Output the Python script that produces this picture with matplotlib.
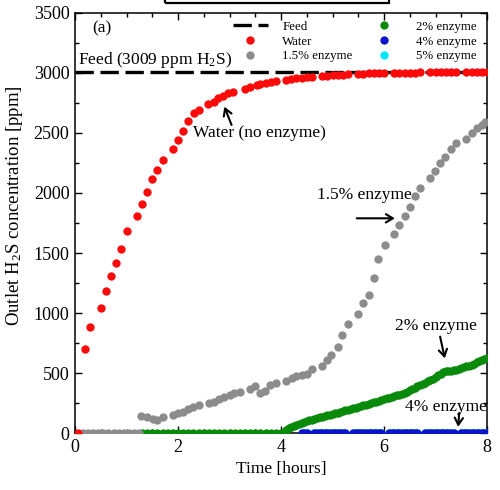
import matplotlib
matplotlib.use("Agg")
import matplotlib.pyplot as plt
from matplotlib.patches import Rectangle
from matplotlib.ticker import MultipleLocator

plt.rcParams["font.family"] = ["Liberation Serif", "DejaVu Serif"]
plt.rcParams["mathtext.fontset"] = "custom"
plt.rcParams["mathtext.rm"] = "Liberation Serif"
plt.rcParams["mathtext.it"] = "Liberation Serif:italic"

FEED_PPM = 3009

# Water (no enzyme)
t_water = [0.05, 0.19, 0.30, 0.50, 0.60, 0.70, 0.80, 0.90, 1.00, 1.20, 1.30, 1.40,
           1.50, 1.60, 1.70, 1.90, 2.00, 2.10, 2.20, 2.31, 2.40, 2.59, 2.69, 2.78,
           2.88, 2.98, 3.07, 3.30, 3.40, 3.53, 3.60, 3.70, 3.80, 3.90, 4.10, 4.20,
           4.30, 4.40, 4.50, 4.60, 4.80, 4.90, 5.00, 5.10, 5.20, 5.30, 5.50, 5.60,
           5.70, 5.80, 5.90, 6.00, 6.20, 6.30, 6.40, 6.50, 6.60, 6.70, 6.90, 7.00,
           7.10, 7.20, 7.30, 7.40, 7.60, 7.70, 7.80, 7.90, 8.00]
c_water = [0, 697, 886, 1044, 1180, 1306, 1419, 1530, 1683, 1811, 1911, 2011,
           2114, 2192, 2275, 2364, 2442, 2517, 2600, 2664, 2692, 2742, 2761, 2789,
           2808, 2831, 2844, 2864, 2883, 2900, 2905, 2913, 2922, 2930, 2945, 2950,
           2956, 2960, 2965, 2968, 2975, 2978, 2981, 2984, 2986, 2989, 2993, 2994,
           2996, 2997, 2999, 3000, 3001, 3002, 3003, 3003, 3004, 3005, 3005, 3006,
           3006, 3007, 3007, 3008, 3008, 3009, 3009, 3010, 3010]

# 1.5 % enzyme
t_e15 = [0.15, 0.25, 0.35, 0.45, 0.55, 0.65, 0.75, 0.85, 0.95, 1.05, 1.15, 1.25,
         1.29, 1.40, 1.51, 1.60, 1.70, 1.90, 2.00, 2.10, 2.20, 2.30, 2.40, 2.60,
         2.70, 2.80, 2.89, 3.00, 3.09, 3.20, 3.40, 3.50, 3.59, 3.69, 3.79, 3.90,
         4.10, 4.21, 4.30, 4.40, 4.50, 4.60, 4.79, 4.90, 4.98, 5.10, 5.18, 5.31,
         5.50, 5.60, 5.70, 5.81, 5.89, 6.01, 6.19, 6.30, 6.41, 6.50, 6.60, 6.70,
         6.89, 6.99, 7.09, 7.18, 7.30, 7.40, 7.59, 7.70, 7.80, 7.90, 7.96]
c_e15 = [0, 0, 0, 0, 0, 0, 0, 0, 0, 0, 0, 0,
         145, 131, 117, 108, 131, 150, 164, 178, 197, 219, 233, 247,
         261, 281, 297, 314, 331, 344, 364, 392, 336, 353, 400, 414,
         436, 461, 475, 483, 492, 531, 558, 608, 650, 719, 817, 908,
         992, 1081, 1150, 1289, 1447, 1567, 1658, 1733, 1811, 1886, 1975, 2044,
         2122, 2183, 2247, 2303, 2364, 2419, 2447, 2503, 2539, 2567, 2594]

# 2 % enzyme
t_e2 = [1.30, 1.40, 1.50, 1.60, 1.70, 1.80, 1.90, 2.00, 2.10, 2.20, 2.30, 2.40,
        2.50, 2.60, 2.70, 2.80, 2.90, 3.00, 3.10, 3.20, 3.30, 3.40, 3.50, 3.60,
        3.70, 3.80, 3.90, 4.00, 4.05, 4.10, 4.15, 4.20, 4.25, 4.30, 4.35, 4.40,
        4.45, 4.50, 4.55, 4.60, 4.65, 4.70, 4.75, 4.80, 4.85, 4.90, 4.95, 5.00,
        5.05, 5.10, 5.15, 5.20, 5.25, 5.30, 5.35, 5.40, 5.45, 5.50, 5.55, 5.60,
        5.65, 5.70, 5.75, 5.80, 5.85, 5.90, 5.95, 6.00, 6.05, 6.10, 6.15, 6.20,
        6.25, 6.30, 6.35, 6.40, 6.45, 6.50, 6.55, 6.60, 6.65, 6.70, 6.75, 6.80,
        6.85, 6.90, 6.95, 7.00, 7.05, 7.10, 7.15, 7.20, 7.25, 7.30, 7.35, 7.40,
        7.45, 7.50, 7.55, 7.60, 7.65, 7.70, 7.75, 7.80, 7.85, 7.90, 7.95, 8.00]
c_e2 = [0, 0, 0, 0, 0, 0, 0, 0, 0, 0, 0, 0,
        0, 0, 0, 0, 0, 0, 0, 0, 0, 0, 0, 0,
        0, 0, 0, 0, 12, 25, 38, 50, 58, 66, 75, 85,
        93, 100, 106, 112, 118, 124, 130, 135, 141, 147, 152, 158,
        164, 170, 176, 182, 188, 194, 200, 206, 212, 218, 224, 230,
        237, 243, 250, 256, 262, 269, 276, 282, 289, 295, 301, 308,
        314, 320, 327, 335, 345, 355, 366, 377, 389, 400, 410, 420,
        431, 442, 453, 465, 480, 495, 507, 515, 518, 520, 522, 525,
        532, 540, 548, 555, 562, 570, 579, 588, 596, 605, 615, 625]

# 4 % enzyme (no breakthrough)
t_e4 = [4.40, 4.45, 4.50,
        4.65, 4.70, 4.75, 4.80, 4.85, 4.90, 4.95, 5.00, 5.05, 5.10, 5.15, 5.20, 5.25,
        5.40, 5.45, 5.50, 5.55, 5.60, 5.65, 5.70, 5.75, 5.80, 5.85, 5.90, 5.95,
        6.10, 6.15, 6.20, 6.25, 6.30, 6.35, 6.40, 6.45, 6.50, 6.55, 6.60, 6.65,
        6.80, 6.85, 6.90, 6.95, 7.00, 7.05, 7.10, 7.15, 7.20, 7.25, 7.30, 7.35,
        7.50, 7.55, 7.60, 7.65, 7.70, 7.75, 7.80, 7.85, 7.90, 7.95, 8.00]
c_e4 = [0] * len(t_e4)

# 5 % enzyme (no breakthrough)
t_e5 = t_e4
c_e5 = [0] * len(t_e5)

fig = plt.figure(figsize=(5.0, 4.9), dpi=100)
ax = fig.add_axes([0.150, 0.1163, 0.824, 0.8572])

ax.axhline(FEED_PPM, color="black", lw=2.4, dashes=(5.5, 2.0), zorder=2, label="Feed")
ms = 6.0
ax.plot(t_e5, c_e5, "o", color="#00e5ff", ms=ms, mec="none", zorder=3, label="5% enzyme")
ax.plot(t_e2, c_e2, "o", color="#0a8a0a", ms=ms, mec="none", zorder=4, label="2% enzyme")
ax.plot(t_e15, c_e15, "o", color="#8c8c8c", ms=ms, mec="none", zorder=5, label="1.5% enzyme")
ax.plot(t_e4, c_e4, "o", color="#0a14c8", ms=ms, mec="none", zorder=6, label="4% enzyme")
ax.plot(t_water, c_water, "o", color="#ff0a0a", ms=ms, mec="none", zorder=7, label="Water")

ax.set_xlim(0, 8)
ax.set_ylim(0, 3500)
ax.xaxis.set_major_locator(MultipleLocator(2))
ax.xaxis.set_minor_locator(MultipleLocator(0.5))
ax.yaxis.set_major_locator(MultipleLocator(500))
ax.yaxis.set_minor_locator(MultipleLocator(250))
ax.tick_params(which="both", direction="in", top=True, right=True, width=1.0)
ax.tick_params(which="major", length=5, labelsize=13, pad=4)
ax.tick_params(which="minor", length=3)
for sp in ax.spines.values():
    sp.set_linewidth(1.1)

ax.set_xlabel("Time [hours]", fontsize=12.5, labelpad=4)
ax.set_ylabel("Outlet H$_2$S concentration [ppm]", fontsize=13.5)
ax.yaxis.set_label_coords(-0.121, 0.54)

# legend: two columns, three rows
h = {l.get_label(): l for l in ax.get_lines()}
order = ["Feed", "Water", "1.5% enzyme", "2% enzyme", "4% enzyme", "5% enzyme"]
ax.legend([h[k] for k in order], order, ncol=2, loc="upper left",
          bbox_to_anchor=(0.3835, 0.981), frameon=False, fontsize=9.3,
          numpoints=1, handlelength=2.7, handletextpad=1.1, columnspacing=1.1,
          labelspacing=0.2, borderpad=0, borderaxespad=0, markerscale=1.0)

ax.text(0.52, 3375, "(a)", fontsize=12.5, ha="center", va="center")
ax.text(0.06, 3108, "Feed (3009 ppm H$_2$S)", fontsize=12.5, ha="left", va="center")

arrow = dict(arrowstyle="->,head_length=0.5,head_width=0.3", lw=1.5, color="black",
             shrinkA=0, shrinkB=0)
ax.text(2.29, 2500, "Water (no enzyme)", fontsize=12.5, ha="left", va="center")
ax.annotate("", xy=(2.90, 2719), xytext=(3.04, 2567), arrowprops=arrow)
ax.text(4.69, 1983, "1.5% enzyme", fontsize=12.5, ha="left", va="center")
ax.annotate("", xy=(6.21, 1789), xytext=(5.47, 1789), arrowprops=arrow)
ax.text(6.21, 892, "2% enzyme", fontsize=12.5, ha="left", va="center")
ax.annotate("", xy=(7.18, 622), xytext=(7.09, 803), arrowprops=arrow)
ax.text(6.41, 219, "4% enzyme", fontsize=12.5, ha="left", va="center")
ax.annotate("", xy=(7.44, 52), xytext=(7.46, 167), arrowprops=arrow)

# frame of the title box above the panel
fig.patches.append(Rectangle((0.33, 0.9929), 0.448, 0.05, transform=fig.transFigure,
                             fill=False, lw=1.6, edgecolor="black", clip_on=False))

fig.savefig("out.png", dpi=100)
